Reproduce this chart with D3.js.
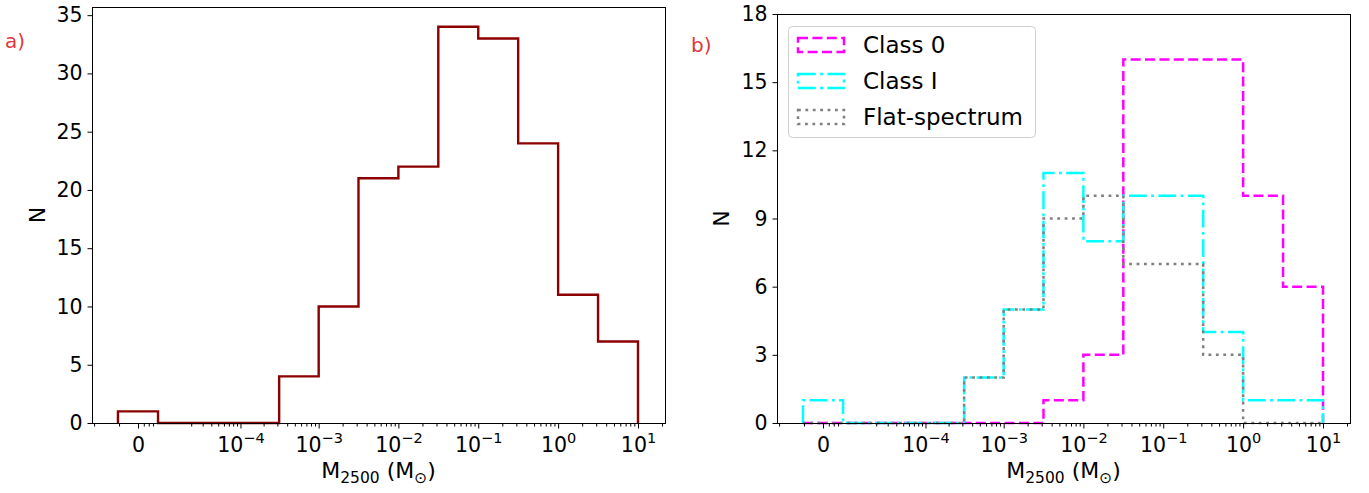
<!DOCTYPE html>
<html><head><meta charset="utf-8">
<script src="https://cdn.jsdelivr.net/npm/d3@7"></script>
<style>body{margin:0;background:#fff} svg{display:block} text{font-family:"DejaVu Sans",sans-serif;fill:#000}</style>
</head><body><svg id="c" width="1369" height="493"></svg>
<script>
// ---- data ----
const binEdges = [-4.3e-6, 4.3e-6, 3.162e-4, 1e-3, 3.162e-3, 1e-2, 3.162e-2, 0.1, 0.3162, 1, 3.162, 10];
const allCounts = [1, 0, 4, 10, 21, 22, 34, 33, 24, 11, 7];
const class0Counts = [0, 0, 0, 0, 1, 3, 16, 16, 16, 10, 6];
const class1Counts = [1, 0, 2, 5, 11, 8, 10, 10, 4, 1, 1];
const flatCounts = [0, 0, 2, 5, 9, 10, 7, 7, 3, 0, 0];
const seriesNames = ["Class 0", "Class I", "Flat-spectrum"];
const xTickValues = [0, 1e-4, 1e-3, 1e-2, 1e-1, 1, 10];
const xTickBase = ["0", "10", "10", "10", "10", "10", "10"];
const xTickExp = ["", "−4", "−3", "−2", "−1", "0", "1"];
const xMinorTicks = [-1.4e-5, -4e-6, 1e-6, 2e-6, 3e-6,
  2e-5, 3e-5, 4e-5, 5e-5, 6e-5, 7e-5, 8e-5, 9e-5,
  2e-4, 3e-4, 4e-4, 5e-4, 6e-4, 7e-4, 8e-4, 9e-4,
  2e-3, 3e-3, 4e-3, 5e-3, 6e-3, 7e-3, 8e-3, 9e-3,
  2e-2, 3e-2, 4e-2, 5e-2, 6e-2, 7e-2, 8e-2, 9e-2,
  0.2, 0.3, 0.4, 0.5, 0.6, 0.7, 0.8, 0.9,
  2, 3, 4, 5, 6, 7, 8, 9, 20];
const yTicksA = [0, 5, 10, 15, 20, 25, 30, 35];
const yTicksB = [0, 3, 6, 9, 12, 15, 18];
const yMaxA = 35.7, yMaxB = 18;

const svg = d3.select("#c");

function stepPoints(edges, counts) {
  const pts = [[edges[0], 0]];
  counts.forEach((c, i) => { pts.push([edges[i], c]); pts.push([edges[i + 1], c]); });
  pts.push([edges[edges.length - 1], 0]);
  return pts;
}

function panel(cfg) {
  const g = svg.append("g");
  const x = d3.scaleSymlog().constant(5.5e-6).domain([0, 10]).range([cfg.x0 + 46, cfg.x0 + 546]);
  const y = d3.scaleLinear().domain([0, cfg.yMax]).range([cfg.bottom, cfg.top]);

  // series
  const line = d3.line().x(d => x(d[0])).y(d => y(d[1]));
  cfg.series.forEach(s => {
    g.append("path").attr("d", line(stepPoints(binEdges, s.counts)))
      .attr("fill", "none").attr("stroke", s.color).attr("stroke-width", s.width)
      .attr("stroke-dasharray", s.dash || null).attr("stroke-linejoin", "miter");
  });

  // frame
  g.append("rect").attr("x", cfg.x0 + 0.5).attr("y", cfg.top + 0.5)
    .attr("width", cfg.x1 - cfg.x0).attr("height", cfg.bottom - cfg.top)
    .attr("fill", "none").attr("stroke", "#000").attr("stroke-width", 1);

  // x axis
  const xa = g.append("g").attr("transform", `translate(0,${cfg.bottom + 0.5})`)
    .call(d3.axisBottom(x).tickValues(xTickValues).tickSize(5).tickPadding(6).tickFormat(""));
  xa.select(".domain").remove();
  xa.selectAll(".tick line").attr("stroke", "#000");
  xa.selectAll(".tick text").remove();
  xa.selectAll(".tick").each(function (d, i) {
    const t = d3.select(this).append("text").attr("y", 28).attr("text-anchor", "middle")
      .style("font-size", "20.5px");
    t.append("tspan").text(xTickBase[i]);
    if (xTickExp[i]) t.append("tspan").attr("dy", -9).style("font-size", "14.5px").text(xTickExp[i]);
  });
  const xm = g.append("g").attr("transform", `translate(0,${cfg.bottom + 0.5})`)
    .call(d3.axisBottom(x).tickValues(xMinorTicks).tickSize(3).tickFormat(""));
  xm.select(".domain").remove();
  xm.selectAll(".tick line").attr("stroke", "#000");

  // y axis
  const ya = g.append("g").attr("transform", `translate(${cfg.x0 + 0.5},0)`)
    .call(d3.axisLeft(y).tickValues(cfg.yTicks).tickSize(5).tickPadding(5));
  ya.select(".domain").remove();
  ya.selectAll(".tick line").attr("stroke", "#000");
  ya.selectAll(".tick text").style("font-size", "20.5px").attr("fill", "#000");

  // labels
  const xl = g.append("text").attr("x", (cfg.x0 + cfg.x1) / 2).attr("y", 478)
    .attr("text-anchor", "middle").style("font-size", "22px");
  xl.append("tspan").text("M");
  xl.append("tspan").attr("dy", 5).style("font-size", "15.5px").text("2500");
  xl.append("tspan").attr("dy", -5).text(" (M");
  xl.append("tspan").attr("dy", 5).style("font-size", "15.5px").text("⊙");
  xl.append("tspan").attr("dy", -5).text(")");

  g.append("text").attr("transform", `translate(${cfg.yLabelX},${(cfg.top + cfg.bottom) / 2}) rotate(-90)`)
    .attr("text-anchor", "middle").attr("dominant-baseline", "central")
    .style("font-size", "22px").text("N");

  g.append("text").attr("x", cfg.tagX).attr("y", cfg.tagY).style("font-size", "20px")
    .style("fill", "#e0373c").text(cfg.tag);
  return g;
}

panel({
  x0: 92, x1: 665, top: 7, bottom: 423, yMax: yMaxA, yTicks: yTicksA,
  yLabelX: 37, tag: "a)", tagX: 5, tagY: 48,
  series: [{ counts: allCounts, color: "#8b0000", width: 2.4 }]
});

const styles = [
  { color: "#ff00ff", dash: "10,4.4" },
  { color: "#00ffff", dash: "17.8,4.4,2.8,4.4" },
  { color: "#808080", dash: "2.8,4.6" }
];
const gB = panel({
  x0: 777, x1: 1350, top: 14, bottom: 423, yMax: yMaxB, yTicks: yTicksB,
  yLabelX: 721, tag: "b)", tagX: 691, tagY: 52,
  series: [class0Counts, class1Counts, flatCounts].map((c, i) => ({ counts: c, color: styles[i].color, dash: styles[i].dash, width: 2.5 }))
});

// legend
const lg = gB.append("g");
lg.append("rect").attr("x", 788.5).attr("y", 26.5).attr("width", 247).attr("height", 111).attr("rx", 4)
  .attr("fill", "#fff").attr("fill-opacity", 0.8).attr("stroke", "#d0d0d0").attr("stroke-width", 1);
seriesNames.forEach((n, i) => {
  const cy = 45 + i * 36;
  lg.append("rect").attr("x", 798).attr("y", cy - 7).attr("width", 46).attr("height", 14)
    .attr("fill", "none").attr("stroke", styles[i].color).attr("stroke-width", 2.5)
    .attr("stroke-dasharray", styles[i].dash);
  lg.append("text").attr("x", 863).attr("y", cy).attr("dominant-baseline", "central")
    .style("font-size", "23px").text(n);
});
</script></body></html>
